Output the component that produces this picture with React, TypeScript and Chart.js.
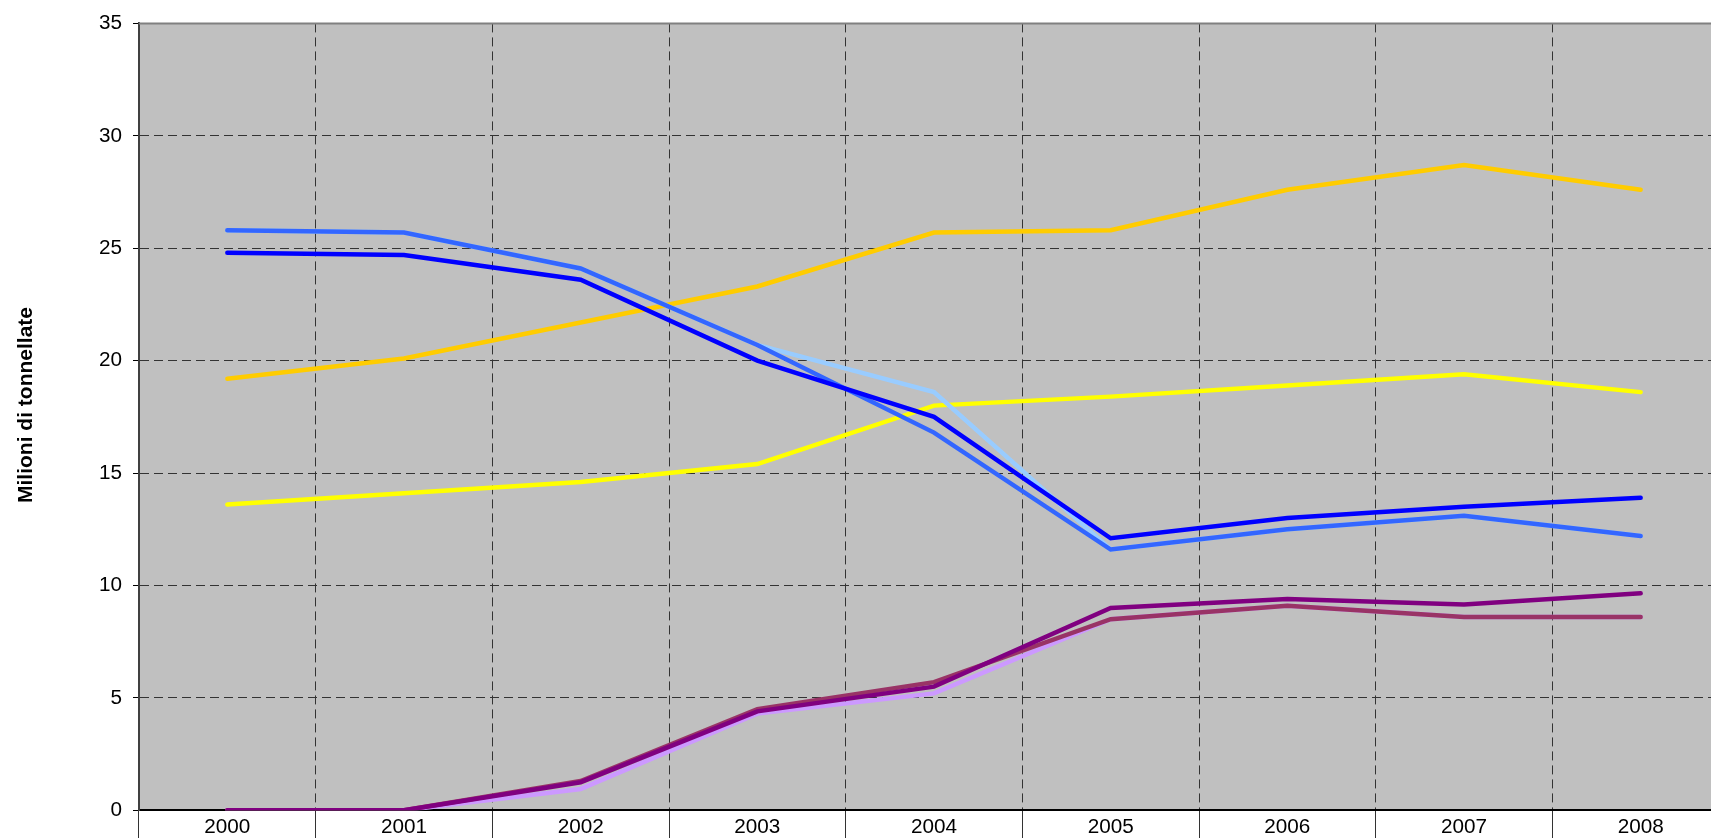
import React, { useEffect, useRef } from 'react';
import { Chart, registerables } from 'chart.js';

Chart.register(...registerables);

const years = ['2000', '2001', '2002', '2003', '2004', '2005', '2006', '2007', '2008'];

const seriesOrange = [19.2, 20.1, 21.7, 23.3, 25.7, 25.8, 27.6, 28.7, 27.6];
const seriesYellow = [13.6, 14.1, 14.6, 15.4, 18.0, 18.4, 18.9, 19.4, 18.6];
const seriesMediumBlue = [25.8, 25.7, 24.1, 20.7, 16.8, 11.6, 12.5, 13.1, 12.2];
const seriesDarkBlue = [24.8, 24.7, 23.6, 20.0, 17.5, 12.1, 13.0, 13.5, 13.9];
const seriesLightBlue = [25.8, 25.7, 24.1, 20.7, 18.6, 11.6, 12.5, 13.1, 12.2];
const seriesPurple = [0, 0, 1.25, 4.4, 5.5, 9.0, 9.4, 9.15, 9.65];
const seriesMaroon = [0, 0, 1.3, 4.5, 5.7, 8.5, 9.1, 8.6, 8.6];
const seriesLavender = [0, 0, 0.95, 4.3, 5.2, 8.5, 9.1, 8.6, 8.6];

const yMin = 0;
const yMax = 35;
const yStep = 5;
const yTitle = 'Milioni di tonnellate';

const FONT = "'Liberation Sans', Arial, Helvetica, sans-serif";

const plotBackground = {
  id: 'plotBackground',
  beforeDraw(chart: any) {
    const { ctx, chartArea: a } = chart;
    ctx.save();
    ctx.fillStyle = '#C0C0C0';
    ctx.fillRect(a.left, a.top, a.right - a.left, a.bottom - a.top);
    ctx.restore();
  },
  afterDraw(chart: any) {
    const { ctx, chartArea: a } = chart;
    ctx.save();
    ctx.strokeStyle = '#808080';
    ctx.lineWidth = 2;
    ctx.beginPath();
    ctx.moveTo(a.left, a.top);
    ctx.lineTo(a.right, a.top);
    ctx.stroke();
    ctx.restore();
    // y-axis title (Excel places it slightly above the plot centre)
    ctx.save();
    ctx.translate(25.8, 405);
    ctx.rotate(-Math.PI / 2);
    ctx.fillStyle = '#000000';
    ctx.font = `bold 21px ${FONT}`;
    ctx.textAlign = 'center';
    ctx.textBaseline = 'middle';
    ctx.fillText(yTitle, 0, 0);
    ctx.restore();
  },
};

function line(label: string, data: number[], color: string, order: number) {
  return {
    label,
    data,
    borderColor: color,
    backgroundColor: color,
    borderWidth: 4.5,
    pointRadius: 0,
    pointHoverRadius: 0,
    tension: 0,
    fill: false,
    borderCapStyle: 'round' as const,
    borderJoinStyle: 'miter' as const,
    order,
  };
}

export default function App() {
  const canvasRef = useRef<HTMLCanvasElement | null>(null);

  useEffect(() => {
    if (!canvasRef.current) return;
    const chart = new Chart(canvasRef.current, {
      type: 'line',
      data: {
        labels: years,
        datasets: [
          line('Serie 1', seriesDarkBlue, '#0000FF', 0),
          line('Serie 2', seriesMediumBlue, '#3366FF', 1),
          line('Serie 3', seriesLightBlue, '#99CCFF', 2),
          line('Serie 4', seriesPurple, '#800080', 3),
          line('Serie 5', seriesMaroon, '#993366', 4),
          line('Serie 6', seriesLavender, '#CC99FF', 5),
          line('Serie 7', seriesYellow, '#FFFF00', 6),
          line('Serie 8', seriesOrange, '#FFCC00', 7),
        ],
      },
      options: {
        animation: false,
        responsive: true,
        maintainAspectRatio: false,
        layout: { padding: { left: 0, top: 22, right: 0, bottom: 0 } },
        plugins: {
          legend: { display: false },
          tooltip: { enabled: false },
        },
        scales: {
          x: {
            type: 'category',
            offset: true,
            grid: {
              offset: true,
              color: '#333333',
              lineWidth: 1,
              drawTicks: true,
              tickLength: 28,
              tickColor: '#333333',
              tickBorderDash: [],
            },
            border: { display: true, color: '#000000', width: 2, dash: [9, 5] },
            ticks: {
              color: '#000000',
              font: { family: FONT, size: 20.7 },
              padding: -23,
              maxRotation: 0,
              autoSkip: false,
            },
            afterFit(scale: any) {
              scale.height = 27.7;
            },
          },
          y: {
            type: 'linear',
            min: yMin,
            max: yMax,
            ticks: {
              stepSize: yStep,
              color: '#000000',
              font: { family: FONT, size: 20.7 },
              padding: 11,
            },
            grid: {
              color: '#333333',
              lineWidth: 1,
              tickLength: 6,
              tickColor: '#000000',
              tickBorderDash: [],
            },
            border: { display: true, color: '#404040', width: 2, dash: [9, 5] },
            title: { display: false },
            afterFit(scale: any) {
              scale.width = 139;
            },
          },
        },
      },
      plugins: [plotBackground],
    });
    return () => chart.destroy();
  }, []);

  return (
    <div
      style={{
        position: 'fixed',
        left: 0,
        top: 0,
        width: '1711px',
        height: '838px',
        overflow: 'hidden',
        background: '#FFFFFF',
      }}
    >
      <div style={{ position: 'relative', width: '1729px', height: '838px' }}>
        <canvas ref={canvasRef} />
      </div>
    </div>
  );
}
